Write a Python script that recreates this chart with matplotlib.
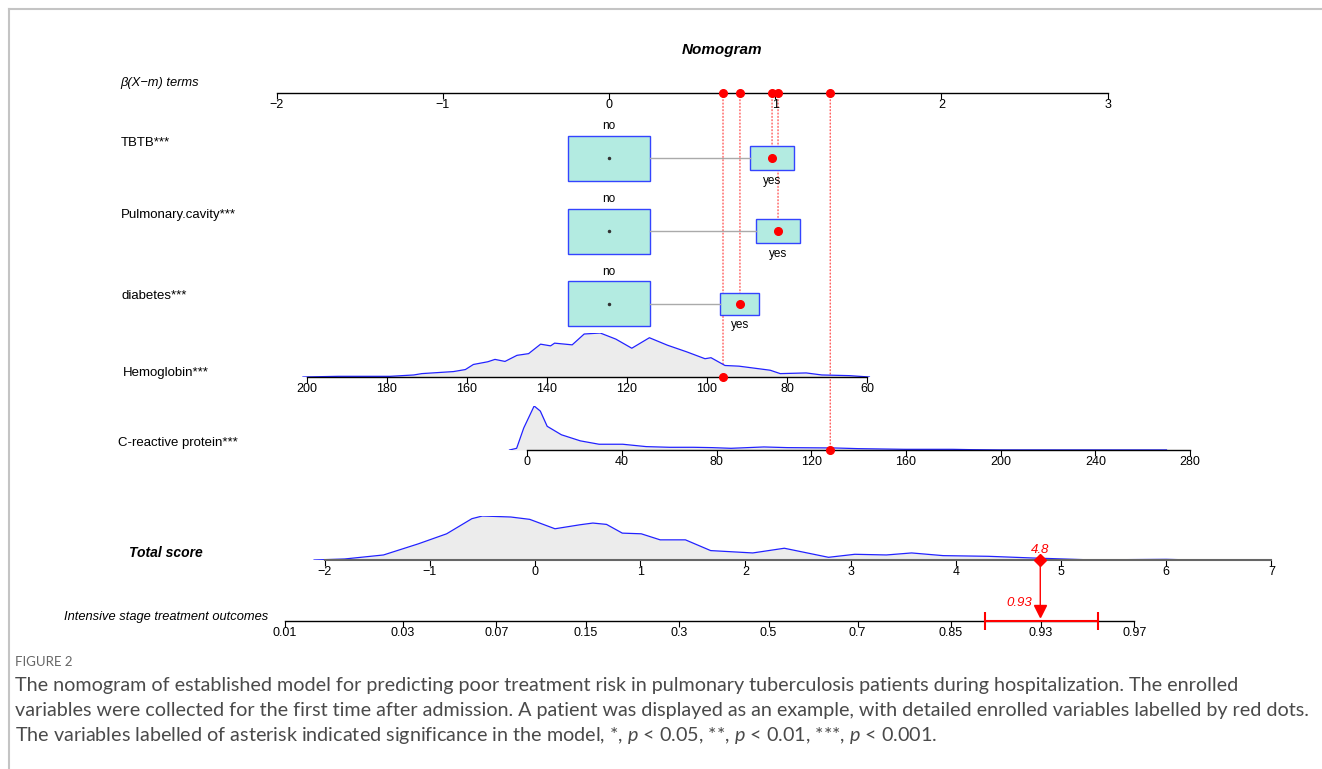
import numpy as np
import matplotlib.pyplot as plt
from matplotlib.patches import Rectangle, ConnectionPatch
from matplotlib.lines import Line2D

plt.rcParams['font.family'] = ['Liberation Sans', 'DejaVu Sans']
plt.rcParams['mathtext.fontset'] = 'custom'
plt.rcParams['mathtext.it'] = 'Lato:italic'
plt.rcParams['mathtext.rm'] = 'Lato'

# ---- model values ----
beta_ticks = [-2, -1, 0, 1, 2, 3]

cat_names = ['TBTB***', 'Pulmonary.cavity***', 'diabetes***']
cat_beta_yes = [0.981, 1.017, 0.788]      # beta of "yes" (reference "no" = 0)
cat_yes_share = [0.29, 0.30, 0.226]       # size of "yes" group relative to "no"

hb_coef, hb_mean, hb_patient = -0.02407, 124.5, 96
hb_ticks = [200, 180, 160, 140, 120, 100, 80, 60]
hb_grid = [201, 192.1, 179.2, 173.3, 171.3, 163.4, 160.4, 158.4, 154.8, 153.0, 150.5,
           147.5, 144.6, 141.6, 139.1, 138.1, 133.7, 130.7, 126.7, 122.8, 118.8, 114.4,
           109.9, 105.0, 100.5, 99.0, 95.5, 92.0, 84.2, 81.7, 75.2, 71.3, 64.4, 59.4]
hb_dens = [0, 2, 2, 6, 10, 16, 22, 37, 45, 52, 46, 64, 69, 97, 92, 100, 95, 127, 130,
           112, 85, 116, 94, 74, 54, 57, 34, 32, 20, 10, 12, 6, 4, 0]

crp_coef, crp_mean, crp_patient = 0.01425, 34.6, 128
crp_ticks = [0, 40, 80, 120, 160, 200, 240, 280]
crp_grid = [-7.4, -4.4, -1.4, 3.0, 5.6, 8.5, 14.5, 22.5, 30.4, 40.4, 50.3, 60.2, 70.2,
            78.1, 86.1, 100, 109.9, 129.8, 139.8, 159.6, 179.5, 187.5, 199.4, 270]
crp_dens = [0, 5, 65, 130, 115, 70, 45, 27, 17, 17, 10, 8, 8, 7, 5, 9, 7, 6, 4, 2, 2,
            1, 0.3, 0.2]

total_ticks = [-2, -1, 0, 1, 2, 3, 4, 5, 6, 7]
total_grid = [-2.1, -1.81, -1.44, -1.11, -0.84, -0.60, -0.50, -0.23, -0.05, 0.19, 0.43,
              0.55, 0.68, 0.83, 1.01, 1.19, 1.43, 1.67, 2.07, 2.37, 2.79, 3.04, 3.34,
              3.58, 3.88, 4.31, 4.73, 5.22, 5.58, 6.00, 6.25]
total_dens = [0, 3, 15, 48, 78, 123, 131, 128, 121, 93, 105, 110, 106, 80, 78, 60, 60,
              28, 21, 35, 8, 17, 15, 21, 13, 11, 6, 1, 1, 2, 0]

intercept = -2.22
prob_ticks = [0.01, 0.03, 0.07, 0.15, 0.3, 0.5, 0.7, 0.85, 0.93, 0.97]
prob_ci = [0.887, 0.958]

caption = [
    'The nomogram of established model for predicting poor treatment risk in pulmonary '
    'tuberculosis patients during hospitalization. The enrolled',
    'variables were collected for the first time after admission. A patient was displayed '
    'as an example, with detailed enrolled variables labelled by red dots.',
    'The variables labelled of asterisk indicated significance in the model, *, $p$ < 0.05, '
    '**, $p$ < 0.01, ***, $p$ < 0.001.',
]

# patient terms
hb_term = hb_coef * (hb_patient - hb_mean)
crp_term = crp_coef * (crp_patient - crp_mean)
total = sum(cat_beta_yes) + hb_term + crp_term
logit = lambda p: np.log(p / (1 - p))
prob = 1 / (1 + np.exp(-(total + intercept)))

# ---- layout (pixels) ----
W, H = 1322, 769
B0, BK = 609, 166.2      # pixel of beta=0, pixels per beta unit
T0, TK = 535, 105.2      # pixel of total=0, pixels per total unit
BOX_W = 82 / BK

fig = plt.figure(figsize=(W / 100, H / 100), dpi=100)
fig.patch.set_facecolor('white')


def minus(v):
    return str(v).replace('-', '\u2212')


def scale_axes(y_px, px0, k, h_px=44):
    ax = fig.add_axes([0, 1 - y_px / H, 1, h_px / H])
    ax.set_xlim(-px0 / k, (W - px0) / k)
    ax.set_ylim(0, 1)
    ax.patch.set_visible(False)
    for s in ['top', 'right', 'left']:
        ax.spines[s].set_visible(False)
    ax.spines['bottom'].set_linewidth(1)
    ax.set_yticks([])
    ax.tick_params(axis='x', direction='out', length=4, width=0.8, labelsize=9, pad=0)
    return ax


def density(ax, grid, dens):
    d = np.array(dens) / max(dens)
    ax.fill_between(grid, 0, d, color='#ececec', lw=0, zorder=1)
    ax.plot(grid, d, color='#2222ff', lw=0.9, zorder=2)


def left_label(x, y, s, size=9.3, **kw):
    fig.text(x / W, 1 - y / H, s, va='center', ha='left', fontsize=size, **kw)


# border
fig.add_artist(Line2D([9 / W, 9 / W], [0, 1 - 9 / H], color='#c4c4c4', lw=1.5))
fig.add_artist(Line2D([9 / W, 1], [1 - 9 / H, 1 - 9 / H], color='#c4c4c4', lw=1.5))

fig.text(722 / W, 1 - 50 / H, 'Nomogram', ha='center', va='center', fontsize=11,
         weight='bold', style='italic')

# beta axis
ax_b = scale_axes(93, B0, BK)
ax_b.set_xticks(beta_ticks, [minus(t) for t in beta_ticks])
ax_b.spines['bottom'].set_bounds(-2, 3)
left_label(120, 83, '\u03b2(X\u2212m) terms', style='italic')

terms = cat_beta_yes + [hb_term, crp_term]
ax_b.plot(terms, [0] * len(terms), 'o', color='red', ms=5.5, clip_on=False, zorder=5)

# categorical rows
cat_rows = [158, 231, 304]
cat_label_y = [143, 215, 296]
cat_axes = []
for name, b, share, y, ly in zip(cat_names, cat_beta_yes, cat_yes_share, cat_rows, cat_label_y):
    ax = fig.add_axes([0, 1 - (y + 45) / H, 1, 90 / H])
    ax.set_xlim(-B0 / BK, (W - B0) / BK)
    ax.set_ylim(-1, 1)
    ax.axis('off')
    s = np.sqrt(share)
    ax.plot([BOX_W / 2, b - s * BOX_W / 2], [0, 0], color='#aaaaaa', lw=1)
    ax.add_patch(Rectangle((-BOX_W / 2, -0.5), BOX_W, 1.0, facecolor='#b3ebe1',
                           edgecolor='#3344ff', lw=1))
    ax.add_patch(Rectangle((b - s * BOX_W / 2, -s / 2), s * BOX_W, s, facecolor='#b3ebe1',
                           edgecolor='#3344ff', lw=1))
    ax.plot(0, 0, 'o', color='#333333', ms=1.5)
    ax.plot(b, 0, 'o', color='red', ms=5.5, zorder=5)
    ax.text(0, 0.58, 'no', ha='center', va='bottom', fontsize=8.5)
    ax.text(b, -s / 2 - 0.1, 'yes', ha='center', va='top', fontsize=8.5)
    left_label(121, ly, name, size=9.5)
    cat_axes.append(ax)

# hemoglobin
hk = BK * hb_coef
ax_hb = scale_axes(377, B0 - hk * hb_mean, hk)
density(ax_hb, hb_grid, hb_dens)
ax_hb.set_xticks(hb_ticks, [str(t) for t in hb_ticks])
ax_hb.spines['bottom'].set_bounds(60, 200)
ax_hb.plot(hb_patient, 0, 'o', color='red', ms=5.5, clip_on=False, zorder=5)
left_label(123, 373, 'Hemoglobin***', size=9.5)

# CRP
ck = BK * crp_coef
ax_crp = scale_axes(450, B0 - ck * crp_mean, ck)
density(ax_crp, crp_grid, crp_dens)
ax_crp.set_xticks(crp_ticks, [str(t) for t in crp_ticks])
ax_crp.spines['bottom'].set_bounds(0, 280)
ax_crp.plot(crp_patient, 0, 'o', color='red', ms=5.5, clip_on=False, zorder=5)
left_label(118, 443, 'C-reactive protein***', size=9.5)

# red dotted guides
targets = [(ax, b, 0) for ax, b in zip(cat_axes, cat_beta_yes)]
targets += [(ax_hb, hb_patient, 0), (ax_crp, crp_patient, 0)]
for t, (ax, xv, yv) in zip(terms, targets):
    fig.add_artist(ConnectionPatch(xyA=(t, 0), coordsA=ax_b.transData, xyB=(xv, yv),
                                   coordsB=ax.transData, color='#ff3333', ls=(0, (1, 2)),
                                   lw=0.8, zorder=0))

# total score
ax_t = scale_axes(560, T0, TK)
density(ax_t, total_grid, total_dens)
ax_t.set_xticks(total_ticks, [minus(t) for t in total_ticks])
ax_t.spines['bottom'].set_bounds(-2, 7)
ax_t.spines['bottom'].set_color('#666666')
ax_t.spines['bottom'].set_linewidth(1.5)
ax_t.plot(total, 0, 'D', color='red', ms=6, clip_on=False, zorder=5)
ax_t.text(total, 0.1, f'{total:.1f}', color='red', style='italic', ha='center',
          va='bottom', fontsize=9.5)
fig.text(129 / W, 1 - 553 / H, 'Total score', va='center', fontsize=10, weight='bold',
         style='italic')

# probability axis
ax_p = scale_axes(621, T0 - TK * intercept, TK, h_px=30)
lt = [logit(p) for p in prob_ticks]
ax_p.set_xticks(lt, [str(p) for p in prob_ticks])
ax_p.spines['bottom'].set_bounds(lt[0], lt[-1])
ax_p.plot([logit(prob_ci[0]), logit(prob_ci[1])], [0, 0], color='red', lw=1.5,
          marker='|', ms=13, mew=1.5, clip_on=False, zorder=5)
lp = logit(prob)
ax_p.plot(lp, 0.33, 'v', color='red', ms=8, clip_on=False, zorder=5)
ax_p.annotate(f'{prob:.2f}', xy=(lp, 0.33), xytext=(-8, 2), textcoords='offset pixels',
              color='red', style='italic', ha='right', va='bottom', fontsize=9.5)
fig.add_artist(ConnectionPatch(xyA=(total, 0), coordsA=ax_t.transData, xyB=(lp, 0.45),
                               coordsB=ax_p.transData, color='red', lw=1))
fig.text(268 / W, 1 - 617 / H, 'Intensive stage treatment outcomes', ha='right',
         va='center', fontsize=9.3, style='italic')

# caption
fig.text(15 / W, 1 - 662 / H, 'FIGURE 2', fontsize=9.5, color='#666666', va='center',
         family='Lato')
for i, line in enumerate(caption):
    fig.text(15 / W, 1 - (686 + 24.5 * i) / H, line, fontsize=14.2, color='#4a4a4a',
             va='center', family='Lato')

fig.savefig('out.png', dpi=100)
